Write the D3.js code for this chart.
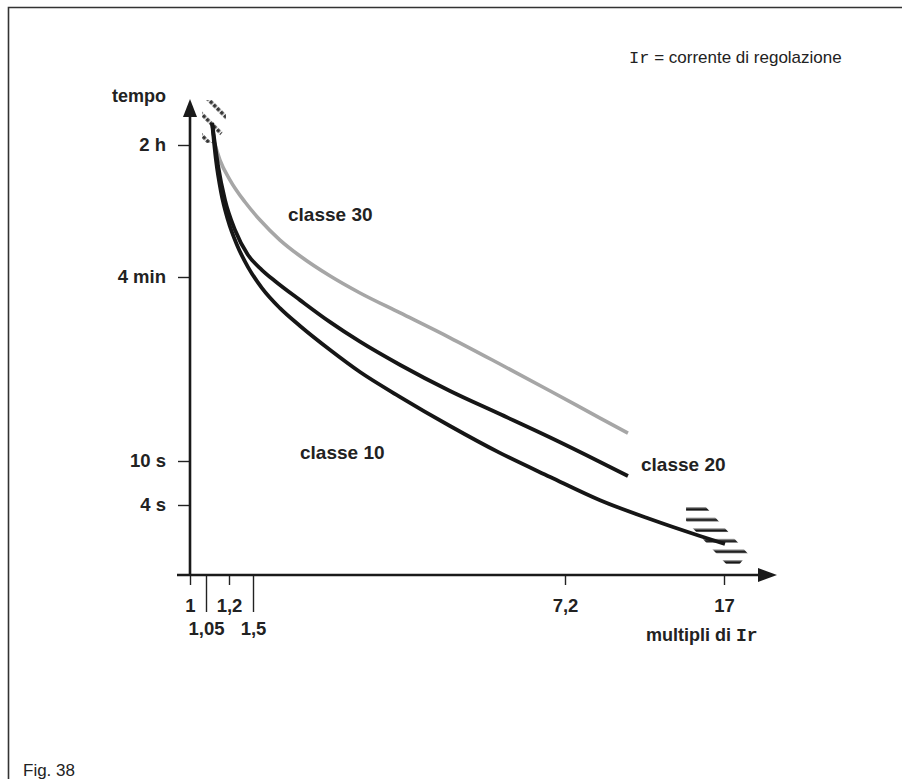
<!DOCTYPE html>
<html>
<head>
<meta charset="utf-8">
<script src="https://cdn.jsdelivr.net/npm/d3@7"></script>
<style>
  body { margin: 0; background: #fff; }
  svg { display: block; }
</style>
</head>
<body>
<svg id="chart" width="902" height="779"></svg>
<script>
// x = multipli di Ir, y = tempo di intervento (secondi)
const xTicks      = [1, 1.05, 1.2, 1.5, 7.2, 17];
const xTickLabels = ['1', '1,05', '1,2', '1,5', '7,2', '17'];
const xTickLong   = [false, true, false, true, false, false];

const yTicks      = [4, 10, 240, 7200];
const yTickLabels = ['4 s', '10 s', '4 min', '2 h'];

const classe10 = [
  [1.09, 12700], [1.115, 4890], [1.148, 2140], [1.193, 1042], [1.30, 547],
  [1.4375, 310], [1.664, 198], [1.993, 140], [2.36, 103], [2.91, 68],
  [3.455, 46.5], [4.19, 30.2], [5.10, 18.3], [6.01, 11.5], [6.93, 7.17],
  [9.36, 4.42], [12.44, 3.03], [15.52, 2.165], [17.06, 1.85]
];
const classe20 = [
  [1.09, 12700], [1.128, 4300], [1.174, 1745], [1.275, 805], [1.4375, 423],
  [1.664, 287], [1.90, 224], [2.36, 161], [2.91, 110], [3.455, 78.5],
  [4.19, 52.5], [5.10, 33.5], [6.01, 22.5], [6.93, 15.0], [9.36, 9.8], [11.08, 7.31]
];
const classe30 = [
  [1.10, 8180], [1.141, 4890], [1.2125, 2920], [1.40, 1656], [1.628, 1042],
  [1.993, 622], [2.36, 412], [2.91, 246], [3.455, 182], [4.19, 129],
  [5.10, 84], [6.01, 53.4], [6.93, 33.5], [9.36, 21.0], [11.08, 16.2]
];

// tolerance zones (hatched)
const bandTop    = [[1.0375, 22900], [1.180, 22900], [1.180, 11150], [1.102, 7570], [1.0375, 7570]];
const bandBottom = [[14.66, 4.0], [15.77, 4.0], [18.48, 1.52], [17.86, 1.195], [17.25, 1.195], [14.66, 2.91]];

const svg = d3.select('#chart');
const FONT = "'Liberation Sans', Arial, Helvetica, sans-serif";
const MONO = "'Liberation Mono', 'Courier New', monospace";

// frame
svg.append('path')
  .attr('d', 'M8.5,779 V7.5 H902')
  .attr('fill', 'none').attr('stroke', '#333').attr('stroke-width', 1.6);

// schematic scales (piecewise, like the original drawing)
const x = d3.scaleLinear()
  .domain([1, 1.05, 1.2, 1.5, 7.2, 17])
  .range([190, 206, 229, 253, 565, 724]);
const y = d3.scaleLog()
  .domain([1, 4, 10, 240, 7200])
  .range([575, 505, 461, 277, 145]);

const x0 = x(1), y0 = y(1);
const xEnd = 777, yEnd = 99;

const defs = svg.append('defs');
const pDiag = defs.append('pattern')
  .attr('id', 'hatch-diag').attr('patternUnits', 'userSpaceOnUse')
  .attr('width', 15).attr('height', 15)
  .attr('patternTransform', 'rotate(-45)');
pDiag.append('line')
  .attr('x1', 2).attr('y1', 0).attr('x2', 2).attr('y2', 15)
  .attr('stroke', '#333').attr('stroke-width', 3.5)
  .attr('stroke-dasharray', '3.5,1.5');

const pHor = defs.append('pattern')
  .attr('id', 'hatch-hor').attr('patternUnits', 'userSpaceOnUse')
  .attr('width', 10).attr('height', 10.6).attr('y', 507);
pHor.append('rect').attr('x', 0).attr('y', 0).attr('width', 10).attr('height', 1.2).attr('fill', '#999');
pHor.append('rect').attr('x', 0).attr('y', 1.2).attr('width', 10).attr('height', 2.4).attr('fill', '#111');

const area = d3.line().x(d => x(d[0])).y(d => y(d[1]));
svg.append('path').attr('d', area(bandTop) + 'Z').attr('fill', 'url(#hatch-diag)');
svg.append('path').attr('d', area(bandBottom) + 'Z').attr('fill', 'url(#hatch-hor)');

// curves
const line = d3.line()
  .x(d => x(d[0])).y(d => y(d[1]))
  .curve(d3.curveMonotoneX);

svg.append('path').datum(classe30)
  .attr('d', line).attr('fill', 'none')
  .attr('stroke', '#a6a6a6').attr('stroke-width', 3.6);
svg.append('path').datum(classe20)
  .attr('d', line).attr('fill', 'none')
  .attr('stroke', '#161616').attr('stroke-width', 3.8);
svg.append('path').datum(classe10)
  .attr('d', line).attr('fill', 'none')
  .attr('stroke', '#161616').attr('stroke-width', 3.8);

// y axis
const yAxis = svg.append('g')
  .attr('transform', `translate(${x0},0)`)
  .call(d3.axisLeft(y).tickValues(yTicks).tickSize(12).tickPadding(12)
    .tickFormat((d, i) => yTickLabels[i]));
yAxis.select('.domain').remove();
yAxis.selectAll('.tick line').attr('stroke', '#222').attr('stroke-width', 1.4);
yAxis.selectAll('.tick text')
  .attr('font-family', FONT).attr('font-size', 18.5).attr('font-weight', 700)
  .attr('fill', '#222');

// x axis
const xAxis = svg.append('g')
  .attr('transform', `translate(0,${y0})`)
  .call(d3.axisBottom(x).tickValues(xTicks).tickSize(10)
    .tickFormat((d, i) => xTickLabels[i]));
xAxis.select('.domain').remove();
xAxis.selectAll('.tick line')
  .attr('stroke', '#222').attr('stroke-width', 1.4)
  .attr('y2', (d, i) => xTickLong[i] ? 37 : 10);
xAxis.selectAll('.tick text')
  .attr('font-family', FONT).attr('font-size', 18.5).attr('font-weight', 700)
  .attr('fill', '#222')
  .attr('dy', null)
  .attr('y', (d, i) => xTickLong[i] ? 60 : 37);

// axis lines with arrows
svg.append('line')
  .attr('x1', x0).attr('y1', y0 + 1).attr('x2', x0).attr('y2', yEnd + 15)
  .attr('stroke', '#1a1a1a').attr('stroke-width', 2.6);
svg.append('line')
  .attr('x1', x0 - 13).attr('y1', y0).attr('x2', xEnd - 16).attr('y2', y0)
  .attr('stroke', '#1a1a1a').attr('stroke-width', 2.6);
svg.append('path')
  .attr('d', `M${x0},${yEnd} L${x0 - 7},${yEnd + 18} L${x0 + 7},${yEnd + 18} Z`)
  .attr('fill', '#1a1a1a');
svg.append('path')
  .attr('d', `M${xEnd},${y0} L${xEnd - 19},${y0 - 7} L${xEnd - 19},${y0 + 7} Z`)
  .attr('fill', '#1a1a1a');

// labels
function label(tx, ty, txt, opts = {}) {
  return svg.append('text')
    .attr('x', tx).attr('y', ty)
    .attr('font-family', FONT)
    .attr('font-size', opts.size || 18)
    .attr('font-weight', opts.weight || 700)
    .attr('text-anchor', opts.anchor || 'start')
    .attr('fill', '#222')
    .text(txt);
}

label(139, 102, 'tempo', { anchor: 'middle' });
label(288, 221, 'classe 30', { size: 19 });
label(641, 471, 'classe 20', { size: 19 });
label(300, 459, 'classe 10', { size: 19 });

const mult = label(646, 641, 'multipli di ');
mult.append('tspan').attr('font-family', MONO).text('Ir');

const legend = svg.append('text')
  .attr('x', 629).attr('y', 63)
  .attr('font-family', FONT).attr('font-size', 17).attr('fill', '#222');
legend.append('tspan').attr('font-family', MONO).text('Ir');
legend.append('tspan').text(' = corrente di regolazione');

label(23, 776, 'Fig. 38', { weight: 400, size: 17 });
</script>
</body>
</html>
